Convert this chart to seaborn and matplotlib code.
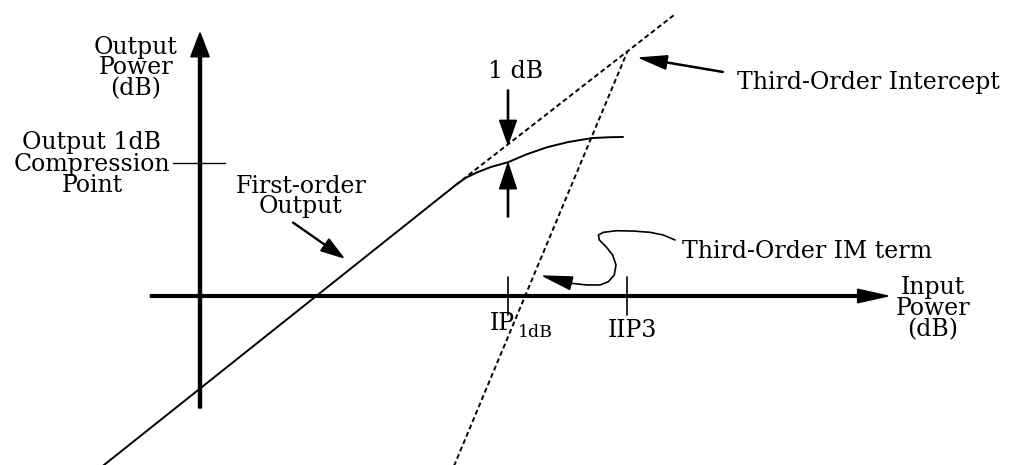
import matplotlib.pyplot as plt
import seaborn as sns

# schematic units: 1 unit = 1 dB, origin where the two power axes cross
input_axis_x = [-3.1, 43.0]
output_axis_y = [-7.0, 16.45]

# first-order (fundamental) output: linear region, then compression
fund_x = [-6.3, 16.0, 16.6, 17.3, 18.2, 19.25, 20.4, 21.7, 23.0, 24.5, 25.5, 26.44]
fund_y = [-10.8, 6.95, 7.38, 7.72, 8.07, 8.36, 8.85, 9.3, 9.62, 9.87, 9.92, 9.94]

# extrapolated linear response (dashed)
lin_x = [16.0, 29.6]
lin_y = [6.95, 17.54]

# third-order intermodulation term (dashed, slope 3)
im3_x = [15.8, 26.7]
im3_y = [-10.8, 15.25]

ip1db = 19.25
op1db = 8.3
iip3 = 26.7
oip3 = 15.25

# hand-drawn curly leader for the IM label
curl_x = [23.23, 24.17, 25.0, 25.52, 25.89, 26.0, 25.79, 25.38, 24.96, 24.9,
          25.21, 26.04, 27.08, 28.13, 28.96, 29.69]
curl_y = [0.79, 0.69, 0.69, 0.89, 1.31, 1.94, 2.56, 3.08, 3.5, 3.81,
          3.98, 4.08, 4.06, 3.98, 3.81, 3.5]

sns.set_theme(style="white")
plt.rcParams['font.family'] = ['DejaVu Serif', 'DejaVu Sans']
plt.rcParams['text.color'] = 'black'

fig = plt.figure(figsize=(10.12, 4.65), dpi=100)
ax = fig.add_axes([0, 0, 1, 1])
ax.set_xlim(-12.5, 50.75)
ax.set_ylim(-10.5625, 18.5)
ax.axis('off')

k = 'black'
fs = 17
lw = 1.4

# axes with arrow heads
ax.arrow(input_axis_x[0], 0, input_axis_x[1] - input_axis_x[0], 0, width=0.17,
         head_width=0.85, head_length=1.9, length_includes_head=True, fc=k, ec=k)
ax.arrow(0, output_axis_y[0], 0, output_axis_y[1] - output_axis_y[0], width=0.19,
         head_width=1.15, head_length=1.5, length_includes_head=True, fc=k, ec=k)

# response curves
sns.lineplot(x=fund_x, y=fund_y, ax=ax, color=k, lw=lw, sort=False, estimator=None)
sns.lineplot(x=lin_x, y=lin_y, ax=ax, color=k, lw=lw, sort=False, estimator=None,
             linestyle=(0, (2.5, 1.6)))
sns.lineplot(x=im3_x, y=im3_y, ax=ax, color=k, lw=lw, sort=False, estimator=None,
             linestyle=(0, (2.5, 1.6)))

# ticks on the axes
ax.plot([-1.7, 1.56], [op1db, op1db], color=k, lw=1.0)
for xt in (ip1db, iip3):
    ax.plot([xt, xt], [-1.19, 1.19], color=k, lw=1.2)

# 1 dB compression arrows
lin_at_ip = lin_y[0] + (ip1db - lin_x[0]) * (lin_y[1] - lin_y[0]) / (lin_x[1] - lin_x[0])
ax.arrow(ip1db, 12.875, 0, lin_at_ip - 12.875, width=0.08, head_width=1.05,
         head_length=1.5, length_includes_head=True, fc=k, ec=k)
ax.arrow(ip1db, 4.94, 0, op1db - 4.94, width=0.08, head_width=1.05,
         head_length=1.6, length_includes_head=True, fc=k, ec=k)
ax.text(ip1db + 0.45, 14.0, '1 dB', fontsize=fs, ha='center', va='center')

# third-order intercept pointer
ax.arrow(32.7, 14.0, iip3 + 0.8 - 32.7, oip3 - 0.37 - 14.0, width=0.07,
         head_width=0.85, head_length=1.7, length_includes_head=True, fc=k, ec=k)
ax.text(33.56, 13.35, 'Third-Order Intercept', fontsize=fs, ha='left', va='center')

# first-order output pointer
ax.arrow(5.8, 4.6, 3.15, -2.2, width=0.06, head_width=0.9, head_length=1.4,
         length_includes_head=True, fc=k, ec=k)
ax.text(6.3, 6.2, 'First-order\nOutput', fontsize=fs, ha='center', va='center',
        linespacing=0.85)

# IM term pointer
sns.lineplot(x=curl_x, y=curl_y, ax=ax, color=k, lw=1.2, sort=False, estimator=None)
ax.arrow(curl_x[0], curl_y[0], 21.46 - curl_x[0], 1.25 - curl_y[0], width=0.05,
         head_width=0.8, head_length=1.8, length_includes_head=True, fc=k, ec=k)
ax.text(30.1, 2.75, 'Third-Order IM term', fontsize=fs, ha='left', va='center')

# axis labels
ax.text(-4.0, 14.25, 'Output\nPower\n(dB)', fontsize=fs, ha='center', va='center',
        linespacing=0.85)
ax.text(45.8, -0.8, 'Input\nPower\n(dB)', fontsize=fs, ha='center', va='center',
        linespacing=0.9)
ax.text(-6.75, 8.25, 'Output 1dB\nCompression\nPoint', fontsize=fs, ha='center',
        va='center', linespacing=0.9)

# tick labels
ax.text(ip1db + 0.4, -1.7, 'IP', fontsize=fs, ha='right', va='center')
ax.text(ip1db + 0.6, -2.3, '1dB', fontsize=12.5, ha='left', va='center')
ax.text(iip3 + 0.35, -2.15, 'IIP3', fontsize=fs, ha='center', va='center')

fig.savefig('out.png', dpi=100)
